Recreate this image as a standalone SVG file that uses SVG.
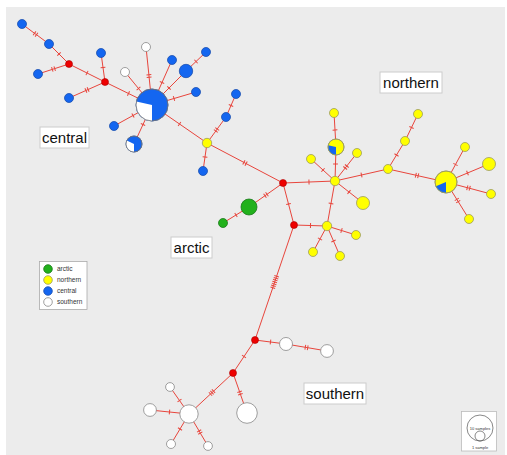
<svg xmlns="http://www.w3.org/2000/svg" width="507" height="455" viewBox="0 0 507 455">
<defs>
<style>
.e{fill:none;stroke:#e8453c;stroke-width:1;marker-mid:url(#t)}
.b{fill:#1466f0;stroke:#1a4fb0;stroke-width:0.8}
.y{fill:#ffff00;stroke:#9a9a60;stroke-width:0.8}
.g{fill:#22b11c;stroke:#1a7a1a;stroke-width:0.8}
.w{fill:#ffffff;stroke:#888;stroke-width:0.8}
.r{fill:#ee0000;stroke:#a00;stroke-width:0.6}
.lb{fill:#fff;stroke:#ccc;stroke-width:1}
.lt{font-family:"Liberation Sans",Arial,sans-serif;font-size:15px;fill:#111;text-anchor:middle}
.sm{font-family:"Liberation Sans",Arial,sans-serif;font-size:6.5px;fill:#333}
.tn{font-family:"Liberation Sans",Arial,sans-serif;font-size:4px;fill:#333;text-anchor:middle}
</style>
<marker id="t" markerUnits="userSpaceOnUse" markerWidth="8" markerHeight="8" refX="4" refY="4" orient="auto" overflow="visible"><path d="M4 1.6V6.4" stroke="#e8453c" stroke-width="1"/></marker>
</defs>
<rect width="507" height="455" fill="#fff"/>
<rect x="6" y="7" width="499" height="448" fill="#ececec"/>
<g id="connectors">
<path class="e" d="M22 24L34.5 33.3L36.5 34.7L49 44"/>
<path class="e" d="M49 44L59 54L69 64"/>
<path class="e" d="M69 64L54.7 68.6L52.3 69.4L38 74"/>
<path class="e" d="M69 64L87 73L105 82"/>
<path class="e" d="M105 82L103 67.5L101 53"/>
<path class="e" d="M105 82L88.1 89.5L85.9 90.5L69 98"/>
<path class="e" d="M105 82L128.5 93.5L152 105"/>
<path class="e" d="M152 105L138.5 88.5L125 72"/>
<path class="e" d="M152 105L149.1 77.2L148.9 74.8L146 47"/>
<path class="e" d="M152 105L162 82.5L172 60"/>
<path class="e" d="M152 105L169 88L186 71"/>
<path class="e" d="M186 71L196 61.5L206 52"/>
<path class="e" d="M152 105L174 98.5L196 92"/>
<path class="e" d="M152 105L133 115.5L114 126"/>
<path class="e" d="M152 105L143 124.5L134 144"/>
<path class="e" d="M152 105L179.5 124L207 143"/>
<path class="e" d="M207 143L215.8 131L217.2 129L226 117"/>
<path class="e" d="M226 117L231 105.5L236 94"/>
<path class="e" d="M207 143L205 157L203 171"/>
<path class="e" d="M207 143L243.9 162.4L246.1 163.6L283 183"/>
<path class="e" d="M283 183L267 194.3L265 195.7L249 207"/>
<path class="e" d="M249 207L236 215L223 223"/>
<path class="e" d="M283 183L309 182L335 181"/>
<path class="e" d="M283 183L288.5 204L294 225"/>
<path class="e" d="M294 225L310.5 225.5L327 226"/>
<path class="e" d="M335 181L331 203.5L327 226"/>
<path class="e" d="M335 181L335.5 164L336 147"/>
<path class="e" d="M336 147L335 130L334 113"/>
<path class="e" d="M335 181L345.2 168L346.8 166L357 153"/>
<path class="e" d="M335 181L323 170L311 159"/>
<path class="e" d="M335 181L349 192L363 203"/>
<path class="e" d="M335 181L361.5 175L388 169"/>
<path class="e" d="M388 169L396.5 155L405 141"/>
<path class="e" d="M405 141L411.5 127.5L418 114"/>
<path class="e" d="M388 169L415.8 175.2L418.2 175.8L446 182"/>
<path class="e" d="M446 182L455.5 164.5L465 147"/>
<path class="e" d="M446 182L467.5 173L489 164"/>
<path class="e" d="M446 182L467.3 187.7L469.7 188.3L491 194"/>
<path class="e" d="M446 182L456.8 199.4L458.2 201.6L469 219"/>
<path class="e" d="M327 226L341.5 230.5L356 235"/>
<path class="e" d="M327 226L320 239L313 252"/>
<path class="e" d="M327 226L333.5 241L340 256"/>
<path class="e" d="M294 225L276.6 276.3L276 278.2L275.3 280.1L274.7 282L274.1 283.9L273.4 285.8L272.8 287.7L255 340"/>
<path class="e" d="M255 340L270.5 342L286 344"/>
<path class="e" d="M286 344L305.3 347.3L307.7 347.7L327 351"/>
<path class="e" d="M255 340L244 356.5L233 373"/>
<path class="e" d="M233 373L239.6 391.8L240.4 394.2L247 413"/>
<path class="e" d="M233 373L213.5 391.2L212 392.6L210.5 394L189 414"/>
<path class="e" d="M189 414L179.5 400.5L170 387"/>
<path class="e" d="M189 414L169.5 412L150 410"/>
<path class="e" d="M189 414L180 429L171 444"/>
<path class="e" d="M189 414L199.1 430.9L200.3 433.1L208 446"/>
</g>
<g id="n-c1"><circle class="b" cx="22" cy="24" r="4.5"/></g>
<g id="n-c2"><circle class="b" cx="49" cy="44" r="4.5"/></g>
<g id="n-c3"><circle class="b" cx="38" cy="74" r="4.5"/></g>
<g id="n-c4"><circle class="b" cx="101" cy="53" r="4.5"/></g>
<g id="n-c5"><circle class="b" cx="69" cy="98" r="4.5"/></g>
<g id="n-c6"><circle class="b" cx="172" cy="60" r="4.5"/></g>
<g id="n-c7"><circle class="b" cx="206" cy="52" r="4.5"/></g>
<g id="n-c8"><circle class="b" cx="186" cy="71" r="6.7"/></g>
<g id="n-c9"><circle class="b" cx="196" cy="92" r="4.5"/></g>
<g id="n-c10"><circle class="b" cx="114" cy="126" r="4.5"/></g>
<g id="n-c11"><circle class="b" cx="236" cy="94" r="4.5"/></g>
<g id="n-c12"><circle class="b" cx="226" cy="117" r="4.5"/></g>
<g id="n-c13"><circle class="b" cx="203" cy="171" r="4.5"/></g>
<g id="n-s1"><circle class="w" cx="125" cy="72" r="4.5"/></g>
<g id="n-s2"><circle class="w" cx="146" cy="47" r="4.5"/></g>
<g id="n-hub-central"><circle class="b" cx="152" cy="105" r="16"/><path class="w" d="M152 105L152 121A16 16 0 0 1 136.4 101.4Z" style="stroke:none"/><circle cx="152" cy="105" r="16" fill="none" stroke="#777" stroke-width="0.8"/></g>
<g id="n-pie-central"><circle class="b" cx="134" cy="144" r="8"/><path class="w" d="M134 144L134 152A8 8 0 0 1 126.8 140.6Z" style="stroke:none"/><circle cx="134" cy="144" r="8" fill="none" stroke="#777" stroke-width="0.8"/></g>
<g id="n-r1"><circle class="r" cx="69" cy="64" r="3.5"/></g>
<g id="n-r2"><circle class="r" cx="105" cy="82" r="3.5"/></g>
<g id="n-r3"><circle class="r" cx="283" cy="183" r="3.5"/></g>
<g id="n-r4"><circle class="r" cx="294" cy="225" r="3.5"/></g>
<g id="n-r5"><circle class="r" cx="255" cy="340" r="3.5"/></g>
<g id="n-r6"><circle class="r" cx="233" cy="373" r="3.5"/></g>
<g id="n-y1"><circle class="y" cx="207" cy="143" r="4.7"/></g>
<g id="n-y2"><circle class="y" cx="334" cy="113" r="4.5"/></g>
<g id="n-y3"><circle class="y" cx="357" cy="153" r="4.5"/></g>
<g id="n-y4"><circle class="y" cx="311" cy="159" r="4.5"/></g>
<g id="n-y5"><circle class="y" cx="335" cy="181" r="4.7"/></g>
<g id="n-y6"><circle class="y" cx="363" cy="203" r="6.5"/></g>
<g id="n-y7"><circle class="y" cx="388" cy="169" r="4.5"/></g>
<g id="n-y8"><circle class="y" cx="405" cy="141" r="4.5"/></g>
<g id="n-y9"><circle class="y" cx="418" cy="114" r="4.5"/></g>
<g id="n-y10"><circle class="y" cx="465" cy="147" r="4.5"/></g>
<g id="n-y11"><circle class="y" cx="489" cy="164" r="6.5"/></g>
<g id="n-y12"><circle class="y" cx="491" cy="194" r="4.5"/></g>
<g id="n-y13"><circle class="y" cx="469" cy="219" r="4.5"/></g>
<g id="n-y14"><circle class="y" cx="327" cy="226" r="4.7"/></g>
<g id="n-y15"><circle class="y" cx="356" cy="235" r="4.5"/></g>
<g id="n-y16"><circle class="y" cx="313" cy="252" r="4.5"/></g>
<g id="n-y17"><circle class="y" cx="340" cy="256" r="4.5"/></g>
<g id="n-pie-north1"><circle class="y" cx="336" cy="147" r="8"/><path class="b" d="M336 147L336 155A8 8 0 0 1 328.2 145.3Z" style="stroke:none"/><circle cx="336" cy="147" r="8" fill="none" stroke="#9a9a60" stroke-width="0.8"/></g>
<g id="n-pie-north2"><circle class="y" cx="446" cy="182" r="11"/><path class="b" d="M446 182L446 193A11 11 0 0 1 435.9 186.3Z" style="stroke:none"/><circle cx="446" cy="182" r="11" fill="none" stroke="#9a9a60" stroke-width="0.8"/></g>
<g id="n-a1"><circle class="g" cx="249" cy="207" r="8"/></g>
<g id="n-a2"><circle class="g" cx="223" cy="223" r="4.5"/></g>
<g id="n-w1"><circle class="w" cx="286" cy="344" r="6.5"/></g>
<g id="n-w2"><circle class="w" cx="327" cy="351" r="6.4"/></g>
<g id="n-w3"><circle class="w" cx="247" cy="413" r="10.3"/></g>
<g id="n-w4"><circle class="w" cx="189" cy="414" r="9.2"/></g>
<g id="n-w5"><circle class="w" cx="170" cy="387" r="4.4"/></g>
<g id="n-w6"><circle class="w" cx="150" cy="410" r="6.4"/></g>
<g id="n-w7"><circle class="w" cx="171" cy="444" r="4.5"/></g>
<g id="n-w8"><circle class="w" cx="208" cy="446" r="4.4"/></g>
<g id="label-central"><rect class="lb" x="40" y="127" width="49" height="21"/><text class="lt" x="64.5" y="143">central</text></g>
<g id="label-northern"><rect class="lb" x="380" y="72" width="62" height="21"/><text class="lt" x="411" y="88">northern</text></g>
<g id="label-arctic"><rect class="lb" x="171" y="237" width="41" height="21"/><text class="lt" x="191.5" y="253">arctic</text></g>
<g id="label-southern"><rect class="lb" x="304" y="383" width="62" height="21"/><text class="lt" x="335" y="399">southern</text></g>
<g id="legend">
<rect x="39.5" y="261.5" width="47.5" height="48" fill="#fff" stroke="#aaa" stroke-width="0.8"/>
<circle class="g" cx="48" cy="269" r="4.3"/>
<circle class="y" cx="48" cy="280" r="4.3"/>
<circle class="b" cx="48" cy="291" r="4.3"/>
<circle class="w" cx="48" cy="302" r="4.3"/>
<text class="sm" x="57" y="271.3">arctic</text>
<text class="sm" x="57" y="282.3">northern</text>
<text class="sm" x="57" y="293.3">central</text>
<text class="sm" x="57" y="304.3">southern</text>
</g>
<g id="scale">
<rect x="461.5" y="411.5" width="35" height="39.5" fill="#fff" stroke="#bbb" stroke-width="0.8"/>
<circle cx="480" cy="428" r="13" fill="none" stroke="#555" stroke-width="0.7"/>
<circle cx="480" cy="436" r="5" fill="none" stroke="#555" stroke-width="0.7"/>
<text class="tn" x="480" y="429.5">10 samples</text>
<text class="tn" x="480" y="448.5">1 sample</text>
</g>
</svg>
